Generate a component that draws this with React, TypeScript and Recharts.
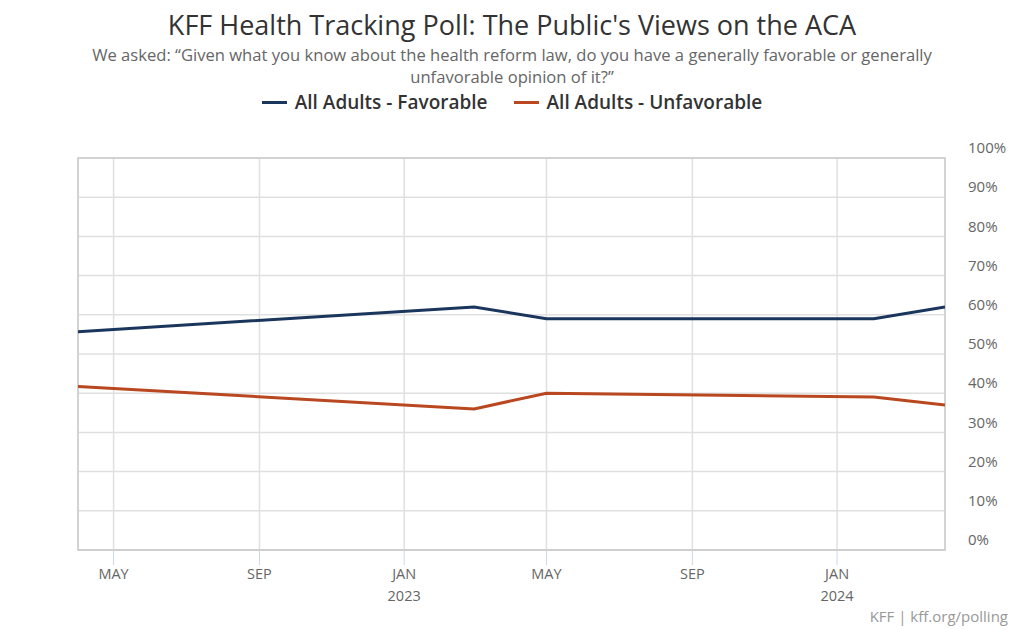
import React from "react";
import {
  LineChart,
  Line,
  XAxis,
  YAxis,
  CartesianGrid,
  ReferenceArea,
} from "recharts";

// ---- Data ----
const pollDates: string[] = ["2022-04-01", "2023-03-01", "2023-05-01", "2024-02-01", "2024-04-01"];
const favorable: number[] = [55.7, 62, 59, 59, 62];
const unfavorable: number[] = [41.7, 36, 40, 39, 37];

const xTickDates: string[] = ["2022-05-01", "2022-09-01", "2023-01-01", "2023-05-01", "2023-09-01", "2024-01-01"];
const xTickMonths: string[] = ["MAY", "SEP", "JAN", "MAY", "SEP", "JAN"];
const xTickYears: string[] = ["", "", "2023", "", "", "2024"];
const yTicks: number[] = [0, 10, 20, 30, 40, 50, 60, 70, 80, 90, 100];
const xDomain: string[] = ["2022-04-01", "2024-04-01"];

const seriesNames = ["All Adults - Favorable", "All Adults - Unfavorable"];
const seriesColors = ["#1b365d", "#b9471f"];

const toTs = (d: string) => Date.parse(d + "T00:00:00Z");

const data = pollDates.map((d, i) => ({
  t: toTs(d),
  fav: favorable[i],
  unfav: unfavorable[i],
}));
const xTicks = xTickDates.map(toTs);
const domain = xDomain.map(toTs);

const FONT = "'Open Sans', 'Noto Sans', sans-serif";

const XTick = (props: any) => {
  const { x, y, payload } = props;
  const idx = xTicks.indexOf(payload.value);
  return (
    <g>
      <line x1={x} x2={x} y1={y} y2={y + 15} stroke="#ccd6eb" strokeWidth={1} />
      <text x={x} y={y + 24} dy="0.35em" textAnchor="middle" fill="#666" fontSize={14.5} fontFamily={FONT}>
        {xTickMonths[idx]}
      </text>
      {xTickYears[idx] ? (
        <text x={x} y={y + 46} dy="0.35em" textAnchor="middle" fill="#666" fontSize={14.5} fontFamily={FONT}>
          {xTickYears[idx]}
        </text>
      ) : null}
    </g>
  );
};

const YTick = (props: any) => {
  const { x, y, payload } = props;
  return (
    <text x={x} y={y - 10} dy="0.35em" textAnchor="start" fill="#666" fontSize={15} fontFamily={FONT}>
      {payload.value}%
    </text>
  );
};

export default function App() {
  return (
    <div style={{ position: "absolute", left: 0, top: 0, width: 1024, height: 630, background: "#fff", fontFamily: FONT }}>
      <div style={{ position: "absolute", left: 0, width: 1024, top: 7, lineHeight: "36px", textAlign: "center", fontSize: 27, color: "#333" }}>
        KFF Health Tracking Poll: The Public's Views on the ACA
      </div>
      <div style={{ position: "absolute", left: 80, width: 864, top: 44, textAlign: "center", fontSize: 16.6, lineHeight: "22px", color: "#666" }}>
        We asked: “Given what you know about the health reform law, do you have a generally favorable or generally unfavorable opinion of it?”
      </div>
      <div style={{ position: "absolute", left: 0, width: 1024, top: 92, lineHeight: "20px", display: "flex", justifyContent: "center", gap: 26, fontSize: 19, fontWeight: 600, color: "#333" }}>
        {seriesNames.map((n, i) => (
          <div key={n} style={{ display: "flex", alignItems: "center" }}>
            <span style={{ display: "inline-block", width: 25, height: 3, background: seriesColors[i], marginRight: 8 }} />
            <span>{n}</span>
          </div>
        ))}
      </div>
      <div style={{ position: "absolute", right: 16, top: 606, fontSize: 15, color: "#999" }}>
        KFF | kff.org/polling
      </div>
      <div style={{ position: "absolute", left: 0, top: 0 }}>
        <LineChart width={1024} height={630} data={data} margin={{ top: 158, right: 0, left: 78, bottom: 0 }}>
          <CartesianGrid stroke="#e0e0e0" strokeWidth={1.5} />
          <XAxis
            dataKey="t"
            type="number"
            domain={domain}
            ticks={xTicks}
            height={80}
            tick={<XTick />}
            tickLine={false}
            tickSize={0}
            tickMargin={0}
            axisLine={{ stroke: "#ccc", strokeWidth: 1.5 }}
            allowDataOverflow
            interval={0}
          />
          <YAxis
            orientation="right"
            type="number"
            domain={[0, 100]}
            ticks={yTicks}
            width={79}
            tick={<YTick />}
            tickLine={false}
            tickSize={0}
            tickMargin={23}
            axisLine={false}
            interval={0}
          />
          <ReferenceArea x1={domain[0]} x2={domain[1]} y1={0} y2={100} fill="none" stroke="#ccc" strokeWidth={1.5} />
          <Line dataKey="fav" stroke={seriesColors[0]} strokeWidth={3} dot={false} isAnimationActive={false} />
          <Line dataKey="unfav" stroke={seriesColors[1]} strokeWidth={3} dot={false} isAnimationActive={false} />
        </LineChart>
      </div>
    </div>
  );
}
